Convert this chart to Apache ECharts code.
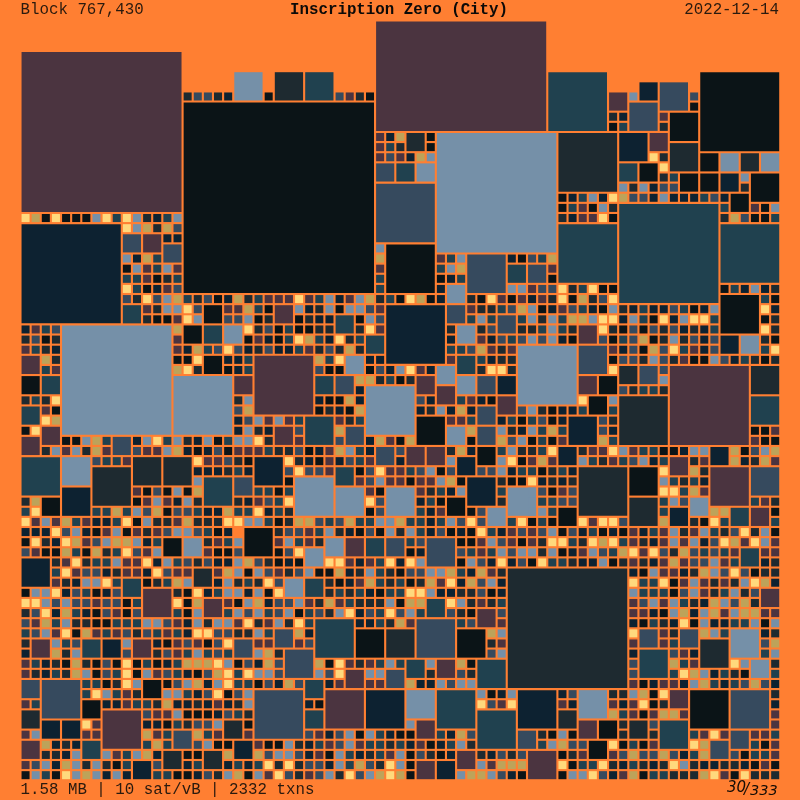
<!DOCTYPE html>
<html><head><meta charset="utf-8">
<style>html,body{margin:0;padding:0;background:#ff7f32}#c{width:800px;height:800px}</style>
<script src="https://cdn.jsdelivr.net/npm/echarts@6/dist/echarts.min.js"></script>
</head><body><div id="c"></div>
<script>
const heading = 'Inscription Zero (City)';
const blockLabel = 'Block 767,430';
const dateLabel = '2022-12-14';
const statsLabel = '1.58 MB | 10 sat/vB | 2332 txns';
const pageParts = ['30', '/', '333'];
const paletteKeys = ['k','n','s','t','b','g','p','y','l'];
const paletteHex = ['#0b1417','#0d2231','#1e2a30','#20414f','#364a5e','#7590a8','#4b3440','#bda35a','#ffd97d'];
// large squares: column, row, side, colour key, optional clipped height
const squares = [
[0,3,16,'p'],[21,5,3,'g'],[25,5,3,'s'],[28,5,3,'t'],[16,8,19,'k'],[35,0,17,'p',11],[52,5,6,'t'],[58,7,2,'p'],[61,6,2,'n'],[60,8,3,'b'],[63,6,3,'b'],[64,9,3,'k'],[67,5,8,'k'],[53,11,6,'s'],[41,11,12,'g'],[59,11,3,'n'],[62,11,2,'p'],[64,12,3,'s'],[59,14,2,'t'],[61,14,2,'k'],[65,15,2,'k'],[67,13,2,'k'],[69,13,2,'g'],[71,13,2,'s'],[73,13,2,'g'],[67,15,2,'k'],[69,15,2,'n'],[72,15,3,'k'],[70,17,2,'k'],[59,18,10,'t'],[53,20,6,'t'],[69,20,6,'t'],[38,11,2,'s'],[35,14,2,'b'],[37,14,2,'t'],[39,14,2,'g'],[35,16,6,'b'],[36,22,5,'k'],[44,23,4,'b'],[48,24,2,'t'],[50,24,2,'b'],[42,26,2,'g'],
[0,20,10,'n'],[10,21,2,'b'],[12,21,2,'p'],[14,22,2,'b'],[10,28,2,'t'],[18,28,2,'k'],[4,30,11,'g'],[16,30,2,'k'],[18,30,2,'t'],[20,30,2,'g'],[0,33,2,'p'],[18,33,2,'k'],[0,35,2,'k'],[2,35,2,'t'],[15,35,6,'g'],[21,35,2,'p'],[0,38,2,'t'],[2,40,2,'p'],[0,41,2,'p'],[9,41,2,'b'],[0,43,4,'t'],[4,43,3,'g'],[11,43,3,'s'],[14,43,3,'s'],[7,44,4,'s'],[18,45,3,'t'],[21,45,2,'b'],[4,46,3,'n'],[2,47,2,'k'],
[25,28,2,'p'],[36,28,6,'n'],[42,28,2,'b'],[31,29,2,'t'],[47,29,2,'b'],[43,30,2,'g'],[34,31,2,'t'],[49,32,6,'g'],[23,33,6,'p'],[32,33,2,'g'],[43,33,2,'t'],[41,34,2,'g'],[29,35,2,'t'],[31,35,2,'b'],[39,35,2,'p'],[43,35,2,'g'],[45,35,2,'b'],[47,35,2,'n'],[34,36,5,'g'],[41,36,2,'p'],[47,37,2,'p'],[45,38,2,'b'],[28,39,3,'t'],[39,39,3,'k'],[25,40,2,'p'],[32,40,2,'b'],[42,40,2,'g'],[45,40,2,'b'],[35,42,2,'b'],[38,42,2,'p'],[40,42,2,'p'],[45,42,2,'k'],[23,43,3,'n'],[43,43,2,'n'],[31,44,2,'t'],[27,45,4,'g'],[44,45,3,'n'],[31,46,3,'g'],[36,46,3,'g'],[48,46,3,'g'],[42,47,2,'k'],[46,48,2,'g'],
[55,30,2,'p'],[69,27,4,'k'],[69,31,2,'n'],[71,31,2,'g'],[55,32,3,'b'],[59,34,2,'s'],[61,34,2,'b'],[64,34,8,'p'],[72,34,3,'s'],[55,35,2,'p'],[57,35,2,'k'],[56,37,2,'k'],[59,37,5,'s'],[72,37,3,'t'],[54,39,3,'n'],[53,42,2,'n'],[68,42,2,'n'],[64,43,2,'p'],[55,44,5,'s'],[60,44,3,'k'],[68,44,4,'p'],[72,44,3,'b'],[60,47,3,'s'],[66,47,2,'g'],[53,48,2,'k'],[64,48,2,'n'],[70,48,2,'t'],[72,48,2,'p'],
[22,50,3,'k'],[14,51,2,'k'],[16,51,2,'g'],[0,53,3,'n'],[17,54,2,'s'],[10,55,2,'t'],[12,56,3,'p'],[18,57,2,'p'],[1,61,2,'p'],[6,61,2,'t'],[8,61,2,'n'],[11,61,2,'p'],[21,61,2,'b'],[0,65,2,'b'],[2,65,4,'b'],[12,65,2,'k'],[23,66,5,'b'],[6,67,2,'k'],[0,68,2,'s'],[8,68,4,'p'],[2,69,2,'n'],[4,69,2,'n'],[20,69,2,'s'],[15,70,2,'b'],[0,71,2,'p'],[6,71,2,'t'],[21,71,2,'n'],[14,72,2,'s'],[18,72,2,'s'],[11,73,2,'n'],
[30,51,2,'g'],[32,51,2,'p'],[34,51,2,'t'],[36,51,2,'b'],[40,51,3,'b'],[28,52,2,'g'],[26,55,2,'g'],[28,55,2,'t'],[40,57,2,'t'],[45,58,2,'p'],[29,59,4,'t'],[39,59,4,'b'],[25,60,2,'b'],[33,60,3,'k'],[36,60,3,'s'],[43,60,3,'k'],[26,62,3,'b'],[38,63,2,'t'],[41,63,2,'p'],[45,63,3,'t'],[32,64,2,'p'],[36,64,2,'b'],[28,65,2,'t'],[30,66,4,'p'],[34,66,4,'n'],[38,66,3,'g'],[41,66,4,'t'],[49,66,4,'n'],[28,68,2,'t'],[45,68,4,'t'],[39,69,2,'p'],[49,70,2,'b'],[43,72,2,'p'],[50,72,3,'p'],[39,73,2,'p'],[41,73,2,'n'],
[48,54,12,'s'],[71,52,2,'t'],[73,56,2,'p'],[61,60,2,'b'],[65,60,2,'b'],[70,60,3,'g'],[67,61,3,'s'],[61,62,3,'t'],[72,63,2,'g'],[55,66,3,'g'],[64,66,2,'p'],[66,66,4,'k'],[70,66,4,'b'],[53,68,2,'s'],[55,69,2,'p'],[57,69,2,'k'],[60,69,2,'s'],[63,69,3,'t'],[70,70,2,'b'],[56,71,2,'k'],[68,71,2,'b']
];
// single cells: one line per grid row, groups of five columns ('_' = five empty)
const cellRows = [
'','','','','','','',
'_ _ _ .sbbs n...k _ .bpsk _ _ _ _ _ g.... .b...',
'_ _ _ _ _ _ _ _ _ _ _ _ _ .k...',
'_ _ _ _ _ _ _ _ _ _ _ ...sn ...p.',
'_ _ _ _ _ _ _ _ _ _ _ ...kt ...s.',
'_ _ _ _ _ _ _ pny.. k....',
'_ _ _ _ _ _ _ pts.. k....',
'_ _ _ _ _ _ _ pbpny g.... _ _ _ ..ls.',
'_ _ _ _ _ _ _ _ _ _ _ _ ...l.',
'_ _ _ _ _ _ _ _ _ _ _ _ ...st _ .g...',
'_ _ _ _ _ _ _ _ _ _ _ ....g sgnbb _ .s...',
'_ _ _ _ _ _ _ _ _ _ ...kn tgnly bbngn nntbn',
'_ _ _ _ _ _ _ _ _ _ ...kt pkgs. _ ....t ..pkg',
'lyklk kkglt lgsnt g.... _ _ _ _ _ _ ...sn pplk. _ ....s ybkkt',
'_ _ lgysy b....',
'_ _ ....n n....',
'_ _ _ _ _ _ _ g....',
'_ _ gnyt. _ _ _ _ y.... .ptg. ...nk bty..',
'_ _ kgptg p.... _ _ _ p.... .tgy. _ ..p..',
'_ _ ttpks t.... _ _ _ t.... .knt. _ ..k..',
'_ _ ltknp b.... _ _ _ t.... .n... ...gg pbbls tlkk. _ ....k tngns',
'_ _ bslbg ytsbk nystp pplpt gnpgy stkly kn..s klpkp npslk ysbl. _ _ ...tk',
'_ _ ..psg glb.. ppytk ..gns gkggb p.... ....p sstby gknpb tnkgs ntnnb tkng. ...ln',
'_ _ ..skk plg.. bbgks ..ksn n..kg b.... ....t gt..t gsgty yglln gtkln gllt. ...ks',
'nptb. _ _ y.... ..lsb ktkks s..sl p.... ..s.. sb..s stgts ..lsk bkbsb nsnt. ...ls',
'sbks. _ _ p.... ..kpn ktlyt nlst. _ ..n.. pnbtb gbgnk ..bkt byksg sbnb. ...sk',
'ptsn. _ _ pnytb lbnsb nntps bsys. _ ..ttb ypsp. _ ...pn bkybl tpnb. ...tl',
'..ys. _ _ kkl.. nnt.. ....y tl..n n.... ..p.. tnss. _ ...kb bsgbs pkkgb ntsks',
'..tp. _ _ yls.. knt.. ....b kk..k bnglp n.... slls. _ ...l. ...b.',
'_ _ _ _ _ _ ...yy stks. _ _ _ _ ...g.',
'_ _ _ _ _ _ ...n. _ _ _ _ ....b stts.',
'stsl. _ _ _ .sg.. ....n kkyn. ....b n..tp nk... _ l..g.',
'..pk. _ _ _ .by.. ....k snky. ....n sgnyn ....b gsknn t..t.',
'..ly. _ _ _ .nbgp gpt.. .pst. _ ..ppt ..ntk tbkn. ..bs.',
'kl... _ _ _ .ngsn ..b.. .y... _ ....y ..gsn gtyt. ..bn. _ _ ..kkp',
'....k kgyt. .nglt gsngk tggls ..p.. .b..n ypky. ....k ..ybg ktkp. ..yt. _ _ ..pkk',
'..sgp gsyp. .bppg ynknb kpppt ssbkn pygtn ..b.. ..syn ..tgs stl.. spplg pttkk ngg.. ykbgy',
'_ ..btt p.... ..lpp bsk.. .lsnk pnbtp ..n.. ..g.. ..glk pyp.. gtspt bgnt. .sp.. ynsyp',
'_ _ _ ..nnn stn.. .blbb p..kb lpptb gkb.. bbgnt tkstn _ ...l. .ys..',
'_ _ _ ..g.. _ .k... ...pb gppkp pgyk. ..skk lnsns _ ...gt stn..',
'_ _ .pkbk gky.. ...tt kt... ....p k...p stng. ..t.. gbkpb _ ...ll typ..',
'sy... _ .kpgp ngs.. .snpb tl... ....l b...n tk... ..s.. gttbb _ ...tg b.... ..tps',
'tl... ..tty tgbyk bbtnn yttln ts... ....k b...t np..k b.... ggt.. _ ...t. ...yy ....k',
'lpgpy tpnnt lkgss pysss llggt ksyyb tbytt ggytt ntgbl b..tl ktk.. lpllb ...y. .sklt ....t',
'nnnlb gnkpg kpspb ggbtk n.... sbbpt gsnkb kgsgt nbknk ltnpb pbgkb ntknk pntpg spgts blsgk',
'klsnl ypbgy ygnt. ...sp tg... pgtps _ ...tb ...kk pgbpk psllt slylt psnpg pgnbl yplgp',
'bpkky tkyst lbpg. ...pk kb... kbl.. _ ...kn ...bt ptgbg gsgkn pgbty lplbs ybtbt p..pp',
'...sp lsttg pplng tbsbn ngybs knk.. llpnp tlnlg ...kg bnlnb kltts nngks psnpy pbbgp t..ns',
'...tl pbbns ppnlb pp..p ygkgb psbgk kynsg tskbb ggytn yps.. _ _ nkgpp nsygb lbkss',
'...ps ngglt ..kst yg..n gstsl b.... sknpy tstks yplny bgn.. _ _ lttlk pgpsp sglyn',
'kggln btknb _ sklnt ggngk l.... ststn kttll gnnss bkn.. _ _ gtttk bgpst gsb..',
'llgbg bbpbb kt... lky.. pkgyn bbgps yptss sgkyy ..lgs pst.. _ _ pbgpg tsnyg bys..',
'sblny tnkbp kb... tkg.. tgbgt bgktb sglnb tlbgt ..bsk ..b.. _ _ ppnkg yngyp gyypp',
'bpytg sskkt ttggb pngsg gplsp gslt. ...nn tsyp. ...tb ..p.. _ _ nktsn lkgnn ttgkg',
'tbgpl kyptp bsbtp tnllb bssgt ..yn. _ _ _ .yg.. _ _ l..ps ..ygt ...ns',
's..gt b.... g..nk pbpkb l..pp ..pb. _ _ _ .sp.. _ _ p..pt _ ...by',
'n..ys g.... b..sb ptgtb t..gy s.... _ _ _ .bg.. _ _ n...b pn... ...tg',
'ptnsk yskbk lktkn tyyyl gkbny b...y klpsp tgt.. g..yk _ _ _ b...y tp... lg..s',
'psnts ygkbt lkgpb tnkby ltlgg b...g bl..g g.... s..bs _ _ _ b...t lygnt sk..t',
'_ .ttks lg..k bgyng lttkb nyb.. np..p p..yn ngbgg _ _ _ pknpp ngytn tbybn',
'_ .tlgt ps..g gtnbl kbg.. _ _ _ _ gkng. ...nb ...ss gykl. _ ....s',
'pt... ...nn pttsy nnsnp nsg.. ...nk _ _ _ lbpl. ...pn ...pn plks. _ ....n',
'_ _ ..bpp gkkkn bts.. _ _ _ _ _ _ ...yt pkpyy p.... ....p',
'_ .lp.. ..nnk tsbbg ..k.. _ _ ...g. _ _ _ ....s ..b.. _ ....p',
'pg... .pp.. ..ypt ..ytp ..p.. ...bp nbgkg tnkk. .tnyb _ .skgk ....s ..s.. .tplp ..ppt',
'..yns n.... ..tyt ..bgk k..pk kgsnt pbgpt tstnp kntgs _ .tgyb b..lk tkp.. .ly.. ..tkp',
'..ssn g..gp tgyn. .kk.. y..yb ggbnp kgtns tpgkb skn.. snbsb ...ks p..pb ybbyb nty.. bkttp',
'pbgny gsgsk t..b. .nt.. ntntl slsbb ngtyb slgk. _ gpyyy ...lk ttlsn tsnsl gsnns snkpk',
'kgtkl gygng n..tt kknbs gykgp lbspb gslbg ylyk. ...gy ygbnk ...kg glbnp yktts ssylp klsss'
];
const gridSpan = 75;

const marks = [];
squares.forEach(s => marks.push([s[0], s[1], s[2], s[4] || s[2], paletteKeys.indexOf(s[3])]));
cellRows.forEach((line, r) => {
  if (!line) return;
  line.split(' ').forEach((g, i) => {
    if (g === '_') return;
    [...g].forEach((ch, j) => {
      if (ch !== '.') marks.push([i * 5 + j, r, 1, 1, paletteKeys.indexOf(ch)]);
    });
  });
});

const chart = echarts.init(document.getElementById('c'), null, {renderer: 'canvas'});
const mono = '"Liberation Mono", monospace';
const ink = '#2a1a0e';
const txt = (o) => ({type: 'text', silent: true, style: Object.assign({fill: ink, font: '15.8px ' + mono}, o.style), left: o.left, right: o.right, top: o.top});
chart.setOption({
  animation: false,
  backgroundColor: '#ff7f32',
  grid: {left: 20.5, top: 20.5, width: 759.75, height: 759.75, containLabel: false},
  xAxis: {type: 'value', min: 0, max: gridSpan, show: false},
  yAxis: {type: 'value', min: 0, max: gridSpan, inverse: true, show: false},
  graphic: [
    txt({left: 20.5, top: 2, style: {text: blockLabel}}),
    txt({left: 290, top: 2, style: {text: heading, font: 'bold 15.8px ' + mono, fill: '#0c0a08'}}),
    txt({right: 21, top: 2, style: {text: dateLabel}}),
    txt({left: 20.5, top: 782, style: {text: statsLabel}}),
    txt({left: 727, top: 781, style: {text: pageParts[0], font: 'italic 15px "DejaVu Sans", sans-serif', fill: '#160d06'}}),
    txt({left: 744, top: 783, style: {text: pageParts[1], font: 'italic 15px "DejaVu Sans", sans-serif', fill: '#160d06'}}),
    txt({left: 750, top: 784, style: {text: pageParts[2], font: 'italic 14.5px "DejaVu Sans", sans-serif', fill: '#160d06'}})
  ],
  series: [{
    type: 'custom',
    coordinateSystem: 'cartesian2d',
    clip: false,
    progressive: 0,
    silent: true,
    data: marks,
    encode: {x: 0, y: 1},
    renderItem: (params, api) => {
      const c = api.value(0), r = api.value(1), w = api.value(2), h = api.value(3);
      const a = api.coord([c, r]), b = api.coord([c + w, r + h]);
      const inset = 1.05;
      return {
        type: 'rect',
        shape: {x: a[0] + inset, y: a[1] + inset, width: b[0] - a[0] - 2 * inset, height: b[1] - a[1] - 2 * inset},
        style: {fill: paletteHex[api.value(4)]}
      };
    }
  }]
});
</script></body></html>
